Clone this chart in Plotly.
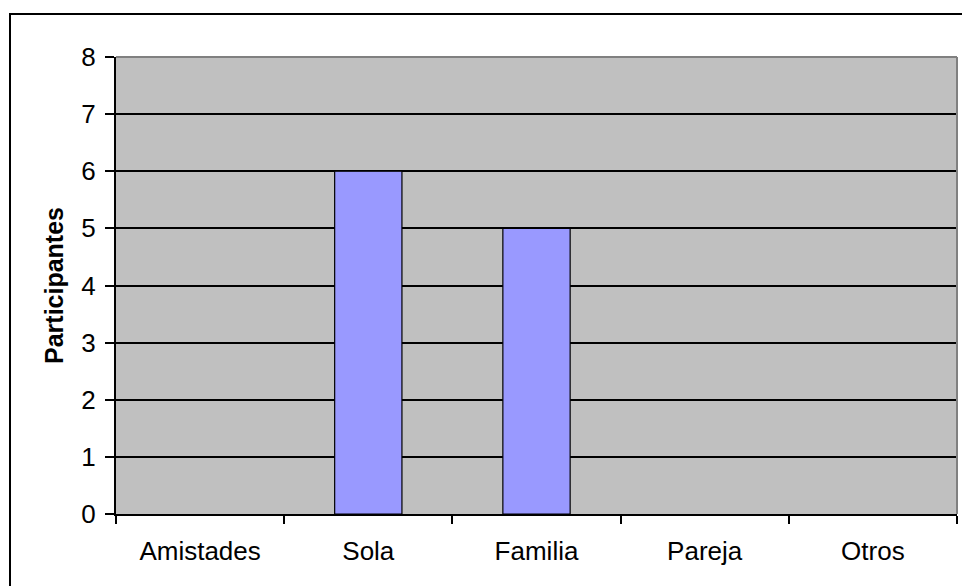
import plotly.graph_objects as go

categories = ["Amistades", "Sola", "Familia", "Pareja", "Otros"]
values = [0, 6, 5, 0, 0]
y_ticks = [0, 1, 2, 3, 4, 5, 6, 7, 8]

W, H = 962, 586
L, R, T, B = 116, 5, 57, 72
pw, ph = W - L - R, H - T - B

def px(x):
    return (x - L) / pw

def py(y):
    return (H - B - y) / ph

fig = go.Figure(go.Bar(
    x=categories, y=values, width=0.4,
    marker=dict(color="#9999FF",
                line=dict(color="black", width=[1.2 if v else 0 for v in values])),
))

fig.update_layout(
    width=W, height=H,
    margin=dict(l=L, r=R, t=T, b=B, pad=0),
    paper_bgcolor="white", plot_bgcolor="#C0C0C0",
    font=dict(family="Liberation Sans, Arial", size=23, color="black"),
    showlegend=False,
)
fig.update_xaxes(
    type="category", tickson="boundaries", ticks="outside", ticklen=8,
    tickcolor="black", tickwidth=1.5, showline=True, linecolor="black", linewidth=2,
    showgrid=False, ticklabelstandoff=13, range=[-0.5, 4.5],
    tickfont=dict(size=26),
)
fig.update_yaxes(
    range=[0, 8], tickvals=y_ticks, ticks="outside", ticklen=9, tickcolor="black",
    tickwidth=1.5, showline=True, linecolor="black", linewidth=2,
    showgrid=True, gridcolor="black", gridwidth=1.5, zeroline=False,
    ticklabelstandoff=4, tickfont=dict(size=26),
    title=dict(text="<b>Participantes</b>", standoff=11, font=dict(size=25)),
)
# plot area border (top & right, gray)
fig.add_shape(type="line", xref="paper", yref="paper", x0=0, x1=1, y0=1, y1=1,
              line=dict(color="#808080", width=2), layer="above")
fig.add_shape(type="line", xref="paper", yref="paper", x0=1, x1=1, y0=0, y1=1,
              line=dict(color="#808080", width=2), layer="above")
# outer chart border
fig.add_shape(type="rect", xref="paper", yref="paper",
              x0=px(10), x1=px(975), y0=py(600), y1=py(14),
              line=dict(color="black", width=2), fillcolor="rgba(0,0,0,0)", layer="above")

fig.write_html("out.html")
